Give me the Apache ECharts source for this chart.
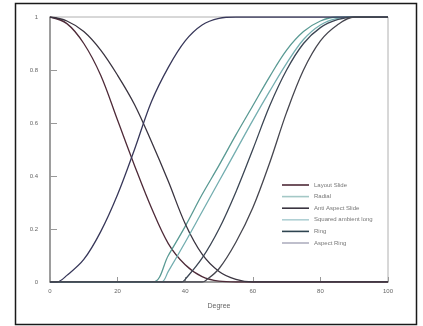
<!DOCTYPE html>
<html>
<head>
<meta charset="utf-8">
<title>Falloff curves</title>
<script src="https://cdn.jsdelivr.net/npm/echarts@6/dist/echarts.min.js"></script>
<style>
  html, body { margin: 0; padding: 0; background: #fff; }
  #chart { width: 423px; height: 326px; }
</style>
</head>
<body>
<div id="chart"></div>
<script>
// values, [x, y]
const layoutSlide = [[0, 1], [5, 0.975], [10, 0.9], [15, 0.78], [20, 0.61], [25, 0.44], [30, 0.28],
  [35, 0.145], [40, 0.065], [45, 0.02], [50, 0.003], [55, 0], [60, 0], [70, 0], [80, 0], [90, 0], [100, 0]];
const radial = [[0, 0], [10, 0], [20, 0], [30.5, 0], [35, 0.1], [40, 0.21], [45, 0.33], [50, 0.44],
  [55, 0.555], [60, 0.665], [65, 0.775], [70, 0.875], [75, 0.945], [80, 0.985], [85, 1], [90, 1], [100, 1]];
const antiAspectSlide = [[0, 1], [5, 0.985], [10, 0.945], [15, 0.875], [20, 0.78], [25, 0.67],
  [30, 0.53], [35, 0.38], [40, 0.22], [45, 0.105], [50, 0.04], [55, 0.01], [60, 0], [70, 0], [80, 0],
  [90, 0], [100, 0]];
const squaredAmbient = [[0, 0], [10, 0], [20, 0], [30, 0], [33, 0], [35, 0.04], [40, 0.15], [45, 0.265],
  [50, 0.38], [55, 0.495], [60, 0.61], [65, 0.72], [70, 0.825], [75, 0.915], [80, 0.97], [85, 0.995],
  [90, 1], [100, 1]];
const ring = [[0, 0], [2, 0], [5, 0.025], [10, 0.085], [15, 0.19], [20, 0.33], [25, 0.5], [30, 0.68],
  [35, 0.81], [40, 0.91], [45, 0.97], [50, 0.995], [55, 1], [60, 1], [70, 1], [80, 1], [90, 1], [100, 1]];
const aspectRingA = [[0, 0], [10, 0], [20, 0], [30, 0], [39, 0], [40, 0.01], [45, 0.09], [50, 0.2],
  [55, 0.34], [60, 0.5], [65, 0.665], [70, 0.8], [75, 0.9], [80, 0.96], [85, 0.99], [90, 1], [100, 1]];
const aspectRingB = [[0, 0], [10, 0], [20, 0], [30, 0], [40, 0], [45, 0], [46, 0.005], [50, 0.05],
  [55, 0.15], [60, 0.28], [65, 0.45], [70, 0.64], [75, 0.8], [80, 0.91], [85, 0.97], [90, 1], [100, 1]];

const seriesNames = ['Layout Slide', 'Radial', 'Anti Aspect Slide', 'Squared ambient long', 'Ring', 'Aspect Ring'];
const legendColors = ['#4e2a38', '#a4c8c6', '#3a3440', '#b0d0d4', '#2e4450', '#b0b0c0'];

const FONT = 'Liberation Sans';
const chart = echarts.init(document.getElementById('chart'), null, { renderer: 'canvas' });

function curve(name, data, color) {
  return {
    name,
    type: 'line',
    data,
    smooth: 0.35,
    symbol: 'none',
    lineStyle: { width: 1.3, color },
    itemStyle: { color },
    z: 3
  };
}

const option = {
  animation: false,
  backgroundColor: '#fff',
  graphic: [{
    type: 'rect',
    shape: { x: 15.5, y: 3.5, width: 401, height: 321 },
    style: { fill: 'none', stroke: '#1a1a1a', lineWidth: 1.5 },
    silent: true
  }],
  grid: {
    left: 50, top: 17, right: 35, bottom: 44,
    show: true, borderColor: '#b0b0b0', borderWidth: 1
  },
  legend: {
    orient: 'vertical',
    left: 282,
    top: 181,
    padding: 0,
    icon: 'rect',
    itemWidth: 27,
    itemHeight: 1.6,
    itemGap: 3.6,
    textStyle: { color: '#777', fontSize: 6, lineHeight: 8, fontFamily: FONT },
    data: seriesNames.map((name, i) => ({ name, itemStyle: { color: legendColors[i] } }))
  },
  xAxis: {
    type: 'value',
    min: 0, max: 100, interval: 20,
    name: 'Degree',
    nameLocation: 'middle',
    nameGap: 21,
    nameTextStyle: { color: '#666', fontSize: 7, fontFamily: FONT },
    axisLine: { lineStyle: { color: '#8a8a8a', width: 1.5 } },
    axisTick: { inside: true, length: 5, lineStyle: { color: '#999' } },
    axisLabel: { color: '#666', fontSize: 6, fontFamily: FONT, margin: 6 },
    splitLine: { show: false }
  },
  yAxis: {
    type: 'value',
    min: 0, max: 1, interval: 0.2,
    axisLine: { show: true, lineStyle: { color: '#8a8a8a', width: 1.5 } },
    axisTick: { show: true, inside: true, length: 7, lineStyle: { color: '#999' } },
    axisLabel: {
      color: '#666', fontSize: 6, fontFamily: FONT, margin: 12,
      formatter: v => String(Math.round(v * 10) / 10)
    },
    splitLine: { show: false }
  },
  series: [
    curve(seriesNames[0], layoutSlide, '#4e2a38'),
    curve(seriesNames[1], radial, '#5a9a94'),
    curve(seriesNames[2], antiAspectSlide, '#3a3440'),
    curve(seriesNames[3], squaredAmbient, '#74aeb0'),
    curve(seriesNames[4], ring, '#38385a'),
    curve(seriesNames[5], aspectRingA, '#3c4654'),
    curve(seriesNames[5], aspectRingB, '#46464f')
  ]
};

chart.setOption(option);
window.addEventListener('resize', () => chart.resize());
</script>
</body>
</html>
